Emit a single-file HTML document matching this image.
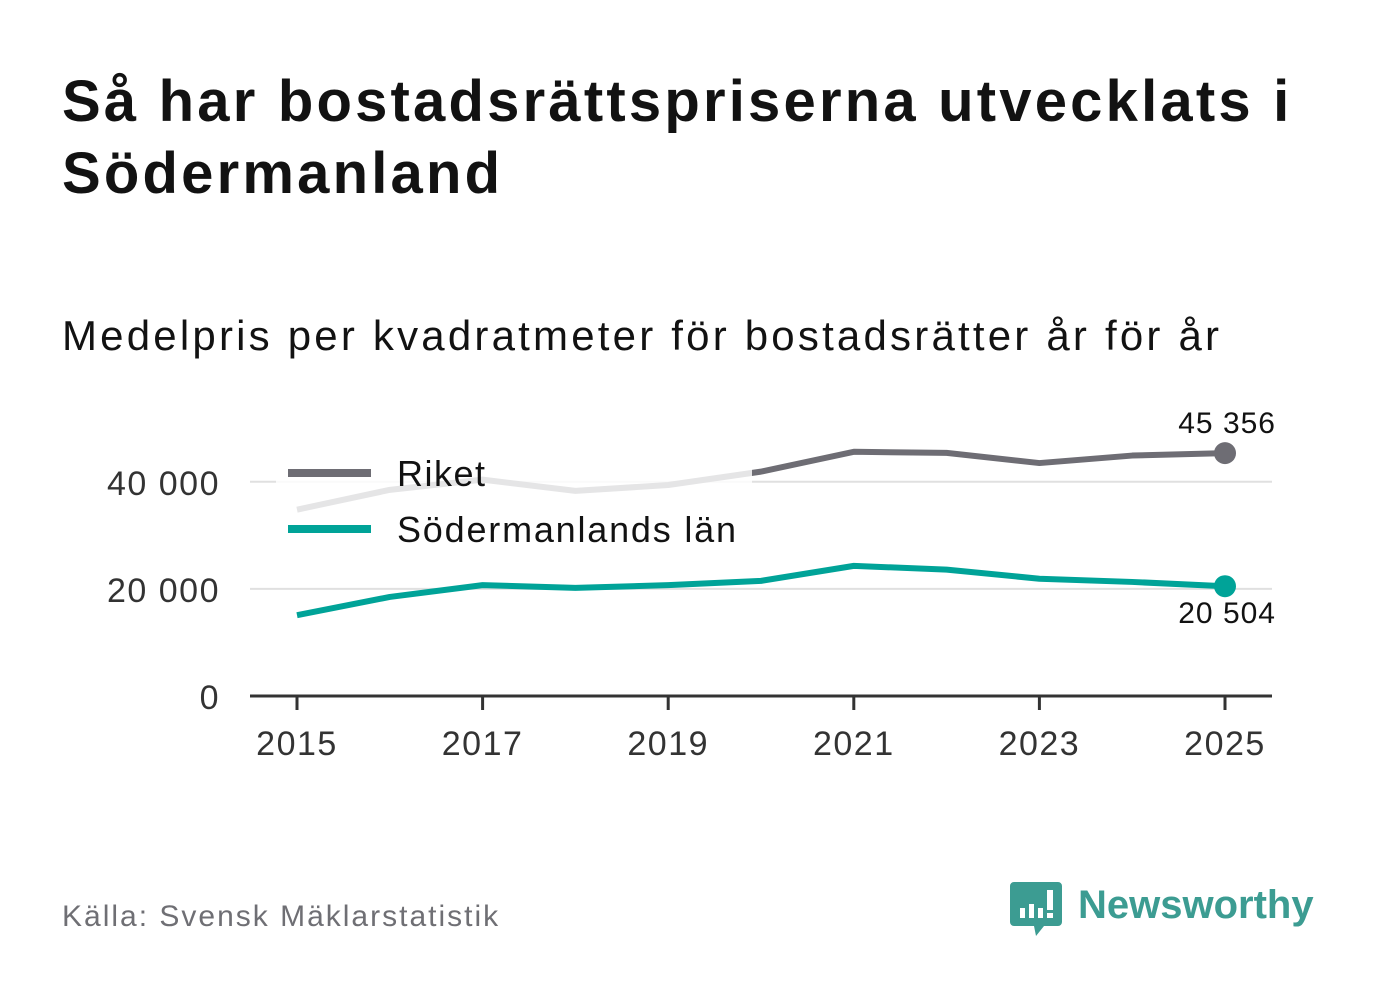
<!DOCTYPE html>
<html><head><meta charset="utf-8"><style>
body{margin:0;background:#fff;font-family:"Liberation Sans","DejaVu Sans",sans-serif;}
#wrap{position:relative;width:1382px;height:999px;overflow:hidden;}
h1{position:absolute;left:62px;top:66px;margin:0;font-size:58px;line-height:72px;font-weight:bold;color:#121212;width:1320px;letter-spacing:3.2px;}
.sub{position:absolute;left:62px;top:312px;font-size:42px;color:#121212;letter-spacing:3.2px;}
.src{position:absolute;left:62px;top:900px;font-size:30px;color:#6f6f74;letter-spacing:2px;}
</style></head><body>
<div id="wrap">
<h1>Så har bostadsrättspriserna utvecklats i Södermanland</h1>
<div class="sub">Medelpris per kvadratmeter för bostadsrätter år för år</div>
<svg id="chart" width="1382" height="999" style="position:absolute;left:0;top:0"></svg>
<div class="src">Källa: Svensk Mäklarstatistik</div>
<svg style="position:absolute;left:1010px;top:880px" width="320" height="60">
<path d="M4 2 h44 a4 4 0 0 1 4 4 v36 a4 4 0 0 1 -4 4 h-14 l-8 10 l-2 -10 h-20 a4 4 0 0 1 -4 -4 v-36 a4 4 0 0 1 4 -4z" fill="#3c9c92"/>
<rect x="10" y="28" width="5" height="10" fill="#fff"/><rect x="19" y="24" width="5" height="14" fill="#fff"/><rect x="28" y="28" width="5" height="10" fill="#fff"/><rect x="37" y="10" width="6" height="20" fill="#fff"/><rect x="37" y="33" width="6" height="5" fill="#fff"/>
<text x="68" y="38" font-size="40" font-weight="bold" fill="#3c9c92" font-family="Liberation Sans, sans-serif">Newsworthy</text>
</svg>
</div>
<script>
const years=[2015,2016,2017,2018,2019,2020,2021,2022,2023,2024,2025];
const riket=[34800,38500,40400,38300,39400,41900,45600,45400,43500,44900,45356];
const sodm=[15100,18500,20700,20200,20700,21500,24300,23600,21900,21300,20504];
const yTicks=[0,20000,40000];
const xTicks=[2015,2017,2019,2021,2023,2025];
const fmt=v=>String(v).replace(/\B(?=(\d{3})+(?!\d))/g," ");
const X=y=>297+(y-2015)*92.8;
const Y=v=>696-v*0.005355;
const svg=document.getElementById('chart');
const NS='http://www.w3.org/2000/svg';
function mk(t,a,txt){const e=document.createElementNS(NS,t);for(const k in a)e.setAttribute(k,a[k]);if(txt!==undefined)e.textContent=txt;svg.appendChild(e);return e;}
yTicks.forEach(v=>{
 if(v>0){const g=mk('line',{x1:250,x2:1272,y1:Y(v),y2:Y(v),stroke:'#e0e0e0','stroke-width':2});
 
 }
 const t=mk('text',{x:220,y:Y(v)+13,'text-anchor':'end','font-size':34,fill:'#333','letter-spacing':1.5},fmt(v));
 
 
});
const ax=mk('line',{x1:250,x2:1272,y1:696,y2:696,stroke:'#333','stroke-width':3});


xTicks.forEach(y=>{
 const tk=mk('line',{x1:X(y),x2:X(y),y1:696,y2:710,stroke:'#333','stroke-width':3});
 
 
 const t=mk('text',{x:X(y),y:755,'text-anchor':'middle','font-size':34,fill:'#333','letter-spacing':1.5},y);
 
 
});
function line(vals,col,name){
 const p=mk('polyline',{points:vals.map((v,i)=>X(years[i])+','+Y(v)).join(' '),fill:'none',stroke:col,'stroke-width':6,'stroke-linejoin':'round'});
 
 
 const n=vals.length-1;
 const c=mk('circle',{cx:X(years[n]),cy:Y(vals[n]),r:11,fill:col});
 
 
}
line(riket,'#6e6d74','riket-line');
line(sodm,'#00a398','sodermanland-line');
const bg=mk('rect',{x:276,y:447,width:476,height:113,fill:'#fff','fill-opacity':0.82});


const l1=mk('line',{x1:288,x2:371,y1:473,y2:473,stroke:'#6e6d74','stroke-width':8});


const t1=mk('text',{x:397,y:486,'font-size':36,fill:'#121212','letter-spacing':1.5},'Riket');


const l2=mk('line',{x1:288,x2:371,y1:529,y2:529,stroke:'#00a398','stroke-width':8});


const t2=mk('text',{x:397,y:542,'font-size':36,fill:'#121212','letter-spacing':1.8},'Södermanlands län');


const n=years.length-1;
const v1=mk('text',{x:1276,y:Y(riket[n])-20,'text-anchor':'end','font-size':30,fill:'#121212','letter-spacing':1},fmt(riket[n]));


const v2=mk('text',{x:1276,y:Y(sodm[n])+37,'text-anchor':'end','font-size':30,fill:'#121212','letter-spacing':1},fmt(sodm[n]));


</script>
</body></html>
